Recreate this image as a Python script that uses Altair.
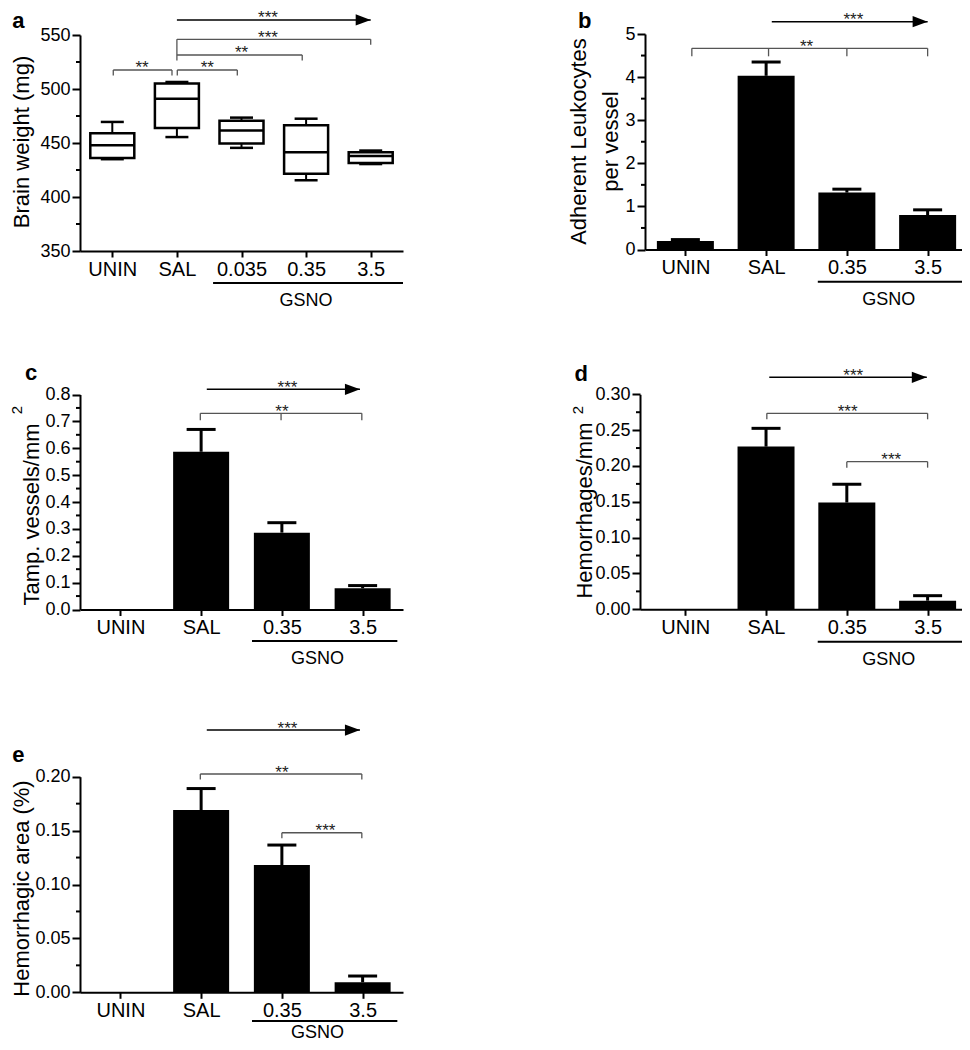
import json
import altair as alt
import pandas as pd

FONT = "Liberation Sans"
OFF = 8            # page margin: chart px = page px - OFF
W, H = 954, 1034
ARROW_PATH = "M-2,-0.75L0,0L-2,0.75Z"
BRK = "#555555"

# ---------------- data ----------------
A_CATS = ["UNIN", "SAL", "0.035", "0.35", "3.5"]
A_MIN = [435, 455.5, 445.5, 415.5, 430.5]
A_Q1 = [436, 464, 449.5, 421.5, 431.5]
A_MED = [448, 491, 461.5, 441.5, 438]
A_Q3 = [459, 505, 470.5, 466.5, 441.5]
A_MAX = [469.5, 506.5, 473.5, 472.5, 443]

CATS4 = ["UNIN", "SAL", "0.35", "3.5"]
B_MEAN = [0.20, 4.03, 1.32, 0.80]
B_UPPER = [0.23, 4.35, 1.40, 0.92]
C_MEAN = [0.0, 0.587, 0.286, 0.079]
C_UPPER = [None, 0.670, 0.323, 0.089]
D_MEAN = [0.0, 0.227, 0.149, 0.012]
D_UPPER = [None, 0.2525, 0.1745, 0.019]
E_MEAN = [0.0, 0.169, 0.118, 0.0093]
E_UPPER = [None, 0.189, 0.1366, 0.0151]

A_MAJOR = [350, 400, 450, 500, 550]
A_MINOR = [375, 425, 475, 525]
B_MAJOR = [0, 1, 2, 3, 4, 5]
B_MINOR = [0.5, 1.5, 2.5, 3.5, 4.5]
C_MAJOR = [0, 0.1, 0.2, 0.3, 0.4, 0.5, 0.6, 0.7, 0.8]
C_MINOR = [0.05, 0.15, 0.25, 0.35, 0.45, 0.55, 0.65, 0.75]
D_MAJOR = [0, 0.05, 0.1, 0.15, 0.2, 0.25, 0.3]
D_MINOR = [0.025, 0.075, 0.125, 0.175, 0.225, 0.275]
E_MAJOR = [0, 0.05, 0.1, 0.15, 0.2]
E_MINOR = [0.025, 0.075, 0.125, 0.175]

# annotations: x in category-index units, y in data units
A_ARROWS = [(1.0, 4.0, 563.9)]
A_BRACKETS = [(1.0, 4.0, 546.0), (1.0, 2.94, 531.5), (0.015, 0.924, 517.6), (1.006, 1.935, 517.6)]
A_VLINES = [(1.0, 546.0, 531.5)]
A_TICKMARKS = [(4.0, 546.0), (1.0, 531.5), (2.94, 531.5), (0.015, 517.6), (0.924, 517.6),
               (1.006, 517.6), (1.935, 517.6)]
A_STARS = [(2.41, 563.9, "***"), (2.41, 546.0, "***"), (2.0, 531.5, "**"),
           (0.46, 517.6, "**"), (1.47, 517.6, "**")]
A_GSNO = [(1.56, 4.5, 320.4, 3.0)]
A_LETTER = [(-1.55, 556.5, "a")]
A_SUP = []

B_ARROWS = [(1.07, 3.0, 5.285)]
B_BRACKETS = [(0.08, 3.0, 4.668)]
B_VLINES = []
B_TICKMARKS = [(0.08, 4.668), (1.03, 4.668), (2.0, 4.668), (3.0, 4.668)]
B_STARS = [(2.08, 5.285, "***"), (1.50, 4.668, "**")]
B_GSNO = [(1.64, 3.44, -0.747, 2.52)]
B_LETTER = [(-1.33, 5.139, "b")]
B_SUP = []

C_ARROWS = [(1.07, 2.967, 0.8193)]
C_BRACKETS = [(0.99, 2.99, 0.730)]
C_VLINES = []
C_TICKMARKS = [(0.99, 0.730), (1.99, 0.730), (2.99, 0.730)]
C_STARS = [(2.07, 0.8193, "***"), (2.0, 0.730, "**")]
C_GSNO = [(1.63, 3.43, -0.117, 2.44)]
C_LETTER = [(-1.18, 0.854, "c")]
C_SUP = [(-1.2235, 0.7423, "2")]

D_ARROWS = [(1.04, 2.99, 0.3237)]
D_BRACKETS = [(1.01, 3.0, 0.2735), (2.0, 3.0, 0.206)]
D_VLINES = []
D_TICKMARKS = [(1.01, 0.2735), (3.0, 0.2735), (2.0, 0.206), (3.0, 0.206)]
D_STARS = [(2.08, 0.3237, "***"), (2.01, 0.2735, "***"), (2.55, 0.206, "***")]
D_GSNO = [(1.64, 3.44, -0.0452, 2.52)]
D_LETTER = [(-1.37, 0.3186, "d")]
D_SUP = [(-1.262, 0.2781, "2")]

E_ARROWS = [(1.07, 2.967, 0.2433)]
E_BRACKETS = [(0.99, 2.99, 0.2025), (2.0, 2.99, 0.148)]
E_VLINES = []
E_TICKMARKS = [(0.99, 0.2025), (2.99, 0.2025), (2.0, 0.148), (2.99, 0.148)]
E_STARS = [(2.07, 0.2433, "***"), (2.0, 0.2025, "**"), (2.54, 0.148, "***")]
E_GSNO = [(1.63, 3.43, -0.0266, 2.44)]
E_LETTER = [(-1.34, 0.2136, "e")]
E_SUP = []

# ---------------- layout (page pixels) ----------------
LAYOUT = {
    "a": dict(xr=(80, 403), xdom=[-0.5, 4.5], yr=(251, 35), ydom=[350, 550], fmt="d",
              title="Brain weight (mg)", tbase=28.2, tmid=141.5, tick_len=5.5, gsno_dy=23),
    "b": dict(xr=(645, 968), xdom=[-0.5, 3.5], yr=(249.5, 34), ydom=[0, 5], fmt="d",
              title=["Adherent Leukocytes", "per vessel"], tbase=585, tmid=141, tick_len=8, bar=57,
              gsno_dy=23),
    "c": dict(xr=(80, 403), xdom=[-0.5, 3.5], yr=(609.5, 394.5), ydom=[0, 0.8], fmt=".1f",
              title="Tamp. vessels/mm", tbase=38, tmid=514, tick_len=7, bar=56, gsno_dy=23),
    "d": dict(xr=(640, 968), xdom=[-0.56, 3.5], yr=(609.3, 394.3), ydom=[0, 0.3], fmt=".2f",
              title="Hemorrhages/mm", tbase=591, tmid=510, tick_len=6, bar=57, gsno_dy=23),
    "e": dict(xr=(80, 403), xdom=[-0.5, 3.5], yr=(992.3, 776.7), ydom=[0, 0.2], fmt=".2f",
              title="Hemorrhagic area (%)", tbase=28.2, tmid=888, tick_len=5.5, bar=56, gsno_dy=17.5),
}


def make_scales(L):
    xs = alt.Scale(domain=L["xdom"], range=[L["xr"][0] - OFF, L["xr"][1] - OFF],
                   nice=False, zero=False, padding=0)
    ys = alt.Scale(domain=L["ydom"], range=[L["yr"][0] - OFF, L["yr"][1] - OFF],
                   nice=False, zero=False, padding=0)
    return xs, ys


def x_axis(L, cats):
    return alt.Axis(orient="bottom", offset=(L["yr"][0] - OFF) - H, values=list(range(len(cats))),
                    labelExpr=json.dumps(cats) + "[datum.value]", title=None, grid=False,
                    tickSize=6, tickWidth=2, domainWidth=2, labelFontSize=20, labelPadding=2,
                    labelFlush=False, labelOverlap=False, labelFont=FONT, labelColor="black",
                    domainColor="black", tickColor="black")


def y_axis(L, values):
    ax = L["xr"][0]
    return alt.Axis(orient="left", offset=-(ax - OFF), values=values, format=L["fmt"],
                    tickSize=8, tickWidth=2, domainWidth=2, labelFontSize=18, labelPadding=2, grid=False,
                    labelFont=FONT, labelColor="black", domainColor="black", tickColor="black",
                    labelFlush=False, labelOverlap=False,
                    title=L["title"], titleFontSize=22, titleFont=FONT, titleFontWeight="normal",
                    titleColor="black", titleAngle=270, titleBaseline="alphabetic", titleAlign="center",
                    titleX=L["tbase"] - ax, titleY=L["tmid"] - OFF, titleLineHeight=32)


def annotations(L, xs, ys, minor, arrows, brackets, vlines, tickmarks, stars, gsno, letter, sup):
    ax = lambda f: alt.X(f, scale=xs, axis=None)
    ay = lambda f: alt.Y(f, scale=ys, axis=None)
    layers = []
    mn = pd.DataFrame({"v": minor})
    layers.append(alt.Chart(mn).mark_rule(color="black", strokeWidth=2, x2Offset=-4).encode(
        x=alt.X(datum=L["xdom"][0], scale=xs, axis=None), x2=alt.X2(datum=L["xdom"][0]),
        y=ay("v:Q")))
    arr = pd.DataFrame(arrows, columns=["x1", "x2", "y"])
    layers.append(alt.Chart(arr).mark_rule(color="black", strokeWidth=1.5).encode(
        x=ax("x1:Q"), x2="x2:Q", y=ay("y:Q")))
    layers.append(alt.Chart(arr).mark_point(shape=ARROW_PATH, size=225, filled=True, color="black",
                                            opacity=1, strokeWidth=0).encode(x=ax("x2:Q"), y=ay("y:Q")))
    br = pd.DataFrame(brackets, columns=["x1", "x2", "y"])
    layers.append(alt.Chart(br).mark_rule(color=BRK, strokeWidth=1.3).encode(
        x=ax("x1:Q"), x2="x2:Q", y=ay("y:Q")))
    if vlines:
        vl = pd.DataFrame(vlines, columns=["x", "y1", "y2"])
        layers.append(alt.Chart(vl).mark_rule(color=BRK, strokeWidth=1.3).encode(
            x=ax("x:Q"), y=ay("y1:Q"), y2="y2:Q"))
    tk = pd.DataFrame(tickmarks, columns=["x", "y"])
    layers.append(alt.Chart(tk).mark_rule(color=BRK, strokeWidth=1.3, y2Offset=L["tick_len"]).encode(
        x=ax("x:Q"), y=ay("y:Q"), y2="y:Q"))
    st = pd.DataFrame(stars, columns=["x", "y", "t"])
    layers.append(alt.Chart(st).mark_text(font=FONT, fontSize=17, align="center", baseline="alphabetic",
                                          dy=3.5, color="#222222").encode(x=ax("x:Q"), y=ay("y:Q"), text="t:N"))
    gs = pd.DataFrame(gsno, columns=["x1", "x2", "y", "xt"])
    gs["t"] = "GSNO"
    layers.append(alt.Chart(gs).mark_rule(color="black", strokeWidth=2).encode(
        x=ax("x1:Q"), x2="x2:Q", y=ay("y:Q")))
    layers.append(alt.Chart(gs).mark_text(font=FONT, fontSize=18, align="center", baseline="alphabetic",
                                          dy=L["gsno_dy"], color="black").encode(
        x=ax("xt:Q"), y=ay("y:Q"), text="t:N"))
    lt = pd.DataFrame(letter, columns=["x", "y", "t"])
    layers.append(alt.Chart(lt).mark_text(font=FONT, fontSize=22, fontWeight="bold", align="left",
                                          baseline="alphabetic", color="black").encode(
        x=ax("x:Q"), y=ay("y:Q"), text="t:N"))
    if sup:
        sp = pd.DataFrame(sup, columns=["x", "y", "t"])
        layers.append(alt.Chart(sp).mark_text(font=FONT, fontSize=15, angle=270, align="center",
                                              baseline="alphabetic", color="black").encode(
            x=ax("x:Q"), y=ay("y:Q"), text="t:N"))
    return layers


def box_layers():
    L = LAYOUT["a"]
    xs, ys = make_scales(L)
    df = pd.DataFrame({"i": list(range(len(A_CATS))), "lo": A_MIN, "q1": A_Q1, "med": A_MED,
                       "q3": A_Q3, "hi": A_MAX})
    base = alt.Chart(df)
    whisk = base.mark_rule(color="black", strokeWidth=2).encode(
        x=alt.X("i:Q", scale=xs, axis=x_axis(L, A_CATS)),
        y=alt.Y("lo:Q", scale=ys, axis=y_axis(L, A_MAJOR)), y2="hi:Q")
    ax = lambda f: alt.X(f, scale=xs, axis=None)
    ay = lambda f: alt.Y(f, scale=ys, axis=None)
    box = base.mark_bar(size=44, fill="white", stroke="black", strokeWidth=2.5).encode(
        x=ax("i:Q"), y=ay("q1:Q"), y2="q3:Q")
    med = base.mark_rule(color="black", strokeWidth=2.5, xOffset=-22, x2Offset=22).encode(
        x=ax("i:Q"), x2="i:Q", y=ay("med:Q"))
    cap_lo = base.mark_rule(color="black", strokeWidth=2.5, xOffset=-11.5, x2Offset=11.5).encode(
        x=ax("i:Q"), x2="i:Q", y=ay("lo:Q"))
    cap_hi = base.mark_rule(color="black", strokeWidth=2.5, xOffset=-11.5, x2Offset=11.5).encode(
        x=ax("i:Q"), x2="i:Q", y=ay("hi:Q"))
    ann = annotations(L, xs, ys, A_MINOR, A_ARROWS, A_BRACKETS, A_VLINES, A_TICKMARKS, A_STARS,
                      A_GSNO, A_LETTER, A_SUP)
    return [whisk, box, med, cap_lo, cap_hi] + ann


def bar_layers(key, mean, upper, major, minor, arrows, brackets, vlines, tickmarks, stars, gsno,
               letter, sup):
    L = LAYOUT[key]
    xs, ys = make_scales(L)
    df = pd.DataFrame({"i": list(range(len(CATS4))), "mean": mean, "upper": upper})
    base = alt.Chart(df)
    bars = base.mark_bar(size=L["bar"], color="black").encode(
        x=alt.X("i:Q", scale=xs, axis=x_axis(L, CATS4)),
        y=alt.Y("mean:Q", scale=ys, axis=y_axis(L, major)), y2=alt.datum(0))
    ax = lambda f: alt.X(f, scale=xs, axis=None)
    ay = lambda f: alt.Y(f, scale=ys, axis=None)
    eb = base.transform_filter("isValid(datum.upper)")
    err = eb.mark_rule(color="black", strokeWidth=3).encode(x=ax("i:Q"), y=ay("mean:Q"), y2="upper:Q")
    cap = eb.mark_rule(color="black", strokeWidth=3, xOffset=-14.5, x2Offset=14.5).encode(
        x=ax("i:Q"), x2="i:Q", y=ay("upper:Q"))
    ann = annotations(L, xs, ys, minor, arrows, brackets, vlines, tickmarks, stars, gsno, letter, sup)
    return [bars, err, cap] + ann


layers = (
    box_layers()
    + bar_layers("b", B_MEAN, B_UPPER, B_MAJOR, B_MINOR, B_ARROWS, B_BRACKETS, B_VLINES,
                 B_TICKMARKS, B_STARS, B_GSNO, B_LETTER, B_SUP)
    + bar_layers("c", C_MEAN, C_UPPER, C_MAJOR, C_MINOR, C_ARROWS, C_BRACKETS, C_VLINES,
                 C_TICKMARKS, C_STARS, C_GSNO, C_LETTER, C_SUP)
    + bar_layers("d", D_MEAN, D_UPPER, D_MAJOR, D_MINOR, D_ARROWS, D_BRACKETS, D_VLINES,
                 D_TICKMARKS, D_STARS, D_GSNO, D_LETTER, D_SUP)
    + bar_layers("e", E_MEAN, E_UPPER, E_MAJOR, E_MINOR, E_ARROWS, E_BRACKETS, E_VLINES,
                 E_TICKMARKS, E_STARS, E_GSNO, E_LETTER, E_SUP)
)

chart = (
    alt.layer(*layers)
    .resolve_scale(x="independent", y="independent")
    .resolve_axis(x="independent", y="independent")
    .properties(width=W, height=H, padding=0, autosize=alt.AutoSizeParams(type="none"))
    .configure_view(strokeWidth=0)
)

chart.save("out.html", embed_options={"renderer": "svg", "actions": False})
